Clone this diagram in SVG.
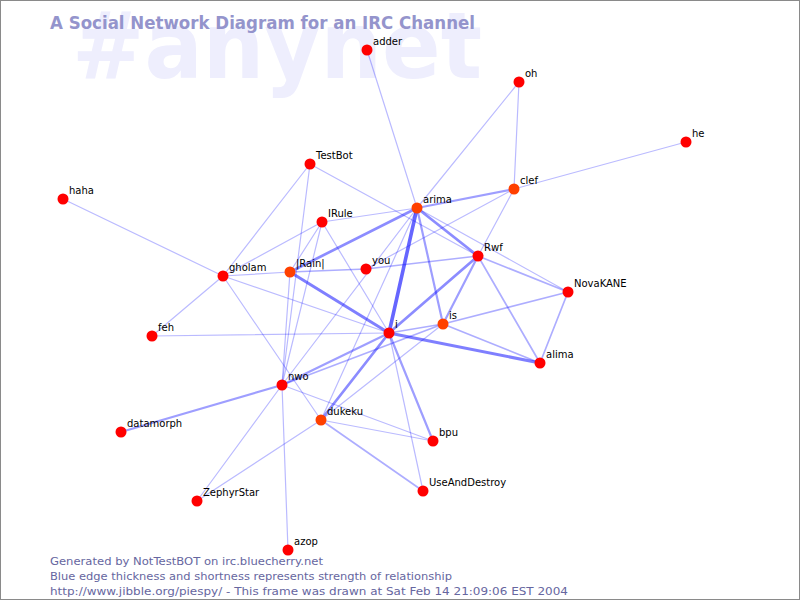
<svg xmlns="http://www.w3.org/2000/svg" width="800" height="600" viewBox="0 0 800 600">
<style>
.e{stroke:#0000ff;fill:none;stroke-linecap:round}
.w1{stroke-width:1.2;stroke-opacity:0.27}
.w15{stroke-width:1.7;stroke-opacity:0.32}
.w2{stroke-width:2.2;stroke-opacity:0.38}
.w25{stroke-width:2.7;stroke-opacity:0.45}
.w3{stroke-width:3;stroke-opacity:0.5}
.w4{stroke-width:3.6;stroke-opacity:0.6}
.n circle{fill:#ff0000}
.n.o circle{fill:#ff4000}
.n text{font-family:"DejaVu Sans",sans-serif;font-size:10px;fill:#000}
.foot{font-family:"DejaVu Sans",sans-serif;font-size:11px;fill:#6666a0}
</style>
<rect x="0" y="0" width="800" height="600" fill="#ffffff"/>
<text x="72" y="78" font-family="DejaVu Sans, sans-serif" font-weight="bold" font-size="92" fill="#eeeefd" textLength="410" lengthAdjust="spacingAndGlyphs">#anynet</text>
<text x="50" y="29" font-family="DejaVu Sans, sans-serif" font-weight="bold" font-size="17" fill="#9494cc" textLength="425" lengthAdjust="spacingAndGlyphs">A Social Network Diagram for an IRC Channel</text>
<g id="connectors">
<line class="e w1" x1="367" y1="50" x2="417" y2="208"/>
<line class="e w1" x1="519" y1="82" x2="417" y2="208"/>
<line class="e w1" x1="519" y1="82" x2="514" y2="189"/>
<line class="e w1" x1="686" y1="142" x2="514" y2="189"/>
<line class="e w2" x1="514" y1="189" x2="417" y2="208"/>
<line class="e w1" x1="514" y1="189" x2="478" y2="256"/>
<line class="e w1" x1="514" y1="189" x2="366" y2="269"/>
<line class="e w1" x1="310" y1="164" x2="223" y2="276"/>
<line class="e w1" x1="310" y1="164" x2="282" y2="385"/>
<line class="e w1" x1="310" y1="164" x2="478" y2="256"/>
<line class="e w1" x1="322" y1="222" x2="417" y2="208"/>
<line class="e w1" x1="322" y1="222" x2="223" y2="276"/>
<line class="e w1" x1="322" y1="222" x2="290" y2="272"/>
<line class="e w1" x1="322" y1="222" x2="282" y2="385"/>
<line class="e w1" x1="322" y1="222" x2="389" y2="333"/>
<line class="e w1" x1="63" y1="199" x2="223" y2="276"/>
<line class="e w1" x1="223" y1="276" x2="290" y2="272"/>
<line class="e w1" x1="223" y1="276" x2="389" y2="333"/>
<line class="e w1" x1="223" y1="276" x2="152" y2="336"/>
<line class="e w1" x1="223" y1="276" x2="321" y2="420"/>
<line class="e w25" x1="290" y1="272" x2="417" y2="208"/>
<line class="e w15" x1="290" y1="272" x2="366" y2="269"/>
<line class="e w3" x1="290" y1="272" x2="389" y2="333"/>
<line class="e w1" x1="290" y1="272" x2="282" y2="385"/>
<line class="e w15" x1="366" y1="269" x2="478" y2="256"/>
<line class="e w1" x1="417" y1="208" x2="282" y2="385"/>
<line class="e w1" x1="417" y1="208" x2="321" y2="420"/>
<line class="e w25" x1="417" y1="208" x2="478" y2="256"/>
<line class="e w4" x1="417" y1="208" x2="389" y2="333"/>
<line class="e w2" x1="417" y1="208" x2="443" y2="324"/>
<line class="e w1" x1="417" y1="208" x2="568" y2="292"/>
<line class="e w25" x1="478" y1="256" x2="389" y2="333"/>
<line class="e w2" x1="478" y1="256" x2="443" y2="324"/>
<line class="e w15" x1="478" y1="256" x2="568" y2="292"/>
<line class="e w15" x1="478" y1="256" x2="540" y2="363"/>
<line class="e w15" x1="443" y1="324" x2="568" y2="292"/>
<line class="e w15" x1="443" y1="324" x2="540" y2="363"/>
<line class="e w15" x1="443" y1="324" x2="389" y2="333"/>
<line class="e w15" x1="443" y1="324" x2="282" y2="385"/>
<line class="e w1" x1="443" y1="324" x2="321" y2="420"/>
<line class="e w15" x1="568" y1="292" x2="540" y2="363"/>
<line class="e w3" x1="389" y1="333" x2="540" y2="363"/>
<line class="e w1" x1="389" y1="333" x2="152" y2="336"/>
<line class="e w2" x1="389" y1="333" x2="282" y2="385"/>
<line class="e w25" x1="389" y1="333" x2="321" y2="420"/>
<line class="e w2" x1="389" y1="333" x2="433" y2="441"/>
<line class="e w1" x1="389" y1="333" x2="423" y2="491"/>
<line class="e w2" x1="282" y1="385" x2="121" y2="432"/>
<line class="e w1" x1="282" y1="385" x2="197" y2="501"/>
<line class="e w1" x1="282" y1="385" x2="288" y2="550"/>
<line class="e w1" x1="282" y1="385" x2="433" y2="441"/>
<line class="e w1" x1="321" y1="420" x2="433" y2="441"/>
<line class="e w15" x1="321" y1="420" x2="423" y2="491"/>
<line class="e w1" x1="321" y1="420" x2="197" y2="501"/>
</g>
<g id="adder" class="n"><circle cx="367" cy="50" r="5.5"/><text x="373" y="45">adder</text></g>
<g id="oh" class="n"><circle cx="519" cy="82" r="5.5"/><text x="525" y="77">oh</text></g>
<g id="he" class="n"><circle cx="686" cy="142" r="5.5"/><text x="692" y="137">he</text></g>
<g id="clef" class="n o"><circle cx="514" cy="189" r="5.5"/><text x="520" y="184">clef</text></g>
<g id="arima" class="n o"><circle cx="417" cy="208" r="5.5"/><text x="423" y="203">arima</text></g>
<g id="TestBot" class="n"><circle cx="310" cy="164" r="5.5"/><text x="316" y="159">TestBot</text></g>
<g id="IRule" class="n"><circle cx="322" cy="222" r="5.5"/><text x="328" y="217">IRule</text></g>
<g id="haha" class="n"><circle cx="63" cy="199" r="5.5"/><text x="69" y="194">haha</text></g>
<g id="gholam" class="n"><circle cx="223" cy="276" r="5.5"/><text x="229" y="271">gholam</text></g>
<g id="Rain" class="n o"><circle cx="290" cy="272" r="5.5"/><text x="296" y="267">|Rain|</text></g>
<g id="you" class="n"><circle cx="366" cy="269" r="5.5"/><text x="372" y="264">you</text></g>
<g id="Rwf" class="n"><circle cx="478" cy="256" r="5.5"/><text x="484" y="251">Rwf</text></g>
<g id="NovaKANE" class="n"><circle cx="568" cy="292" r="5.5"/><text x="574" y="287">NovaKANE</text></g>
<g id="is" class="n o"><circle cx="443" cy="324" r="5.5"/><text x="449" y="319">is</text></g>
<g id="i" class="n"><circle cx="389" cy="333" r="5.5"/><text x="395" y="328">i</text></g>
<g id="alima" class="n"><circle cx="540" cy="363" r="5.5"/><text x="546" y="358">alima</text></g>
<g id="feh" class="n"><circle cx="152" cy="336" r="5.5"/><text x="158" y="331">feh</text></g>
<g id="nwo" class="n"><circle cx="282" cy="385" r="5.5"/><text x="288" y="380">nwo</text></g>
<g id="dukeku" class="n o"><circle cx="321" cy="420" r="5.5"/><text x="327" y="415">dukeku</text></g>
<g id="bpu" class="n"><circle cx="433" cy="441" r="5.5"/><text x="439" y="436">bpu</text></g>
<g id="datamorph" class="n"><circle cx="121" cy="432" r="5.5"/><text x="127" y="427">datamorph</text></g>
<g id="UseAndDestroy" class="n"><circle cx="423" cy="491" r="5.5"/><text x="429" y="486">UseAndDestroy</text></g>
<g id="ZephyrStar" class="n"><circle cx="197" cy="501" r="5.5"/><text x="203" y="496">ZephyrStar</text></g>
<g id="azop" class="n"><circle cx="288" cy="550" r="5.5"/><text x="294" y="545">azop</text></g>
<text class="foot" x="50" y="565" textLength="273" lengthAdjust="spacingAndGlyphs">Generated by NotTestBOT on irc.bluecherry.net</text>
<text class="foot" x="50" y="580" textLength="402" lengthAdjust="spacingAndGlyphs">Blue edge thickness and shortness represents strength of relationship</text>
<text class="foot" x="50" y="595" textLength="518" lengthAdjust="spacingAndGlyphs">http://www.jibble.org/piespy/ - This frame was drawn at Sat Feb 14 21:09:06 EST 2004</text>
<rect x="0.5" y="0.5" width="799" height="599" fill="none" stroke="#8a8a8a" stroke-width="1"/>
</svg>
